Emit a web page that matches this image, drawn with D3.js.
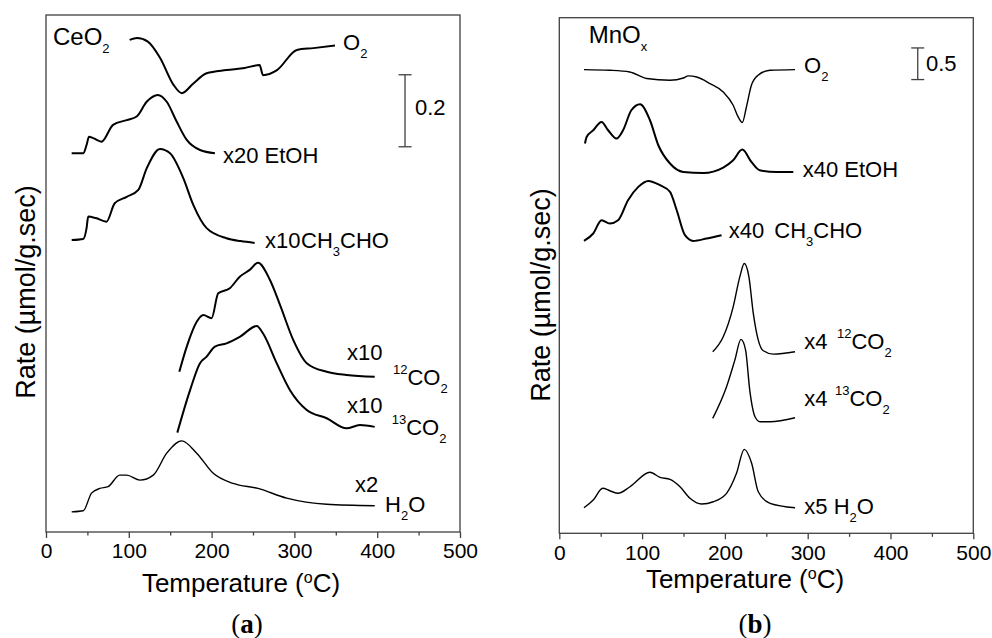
<!DOCTYPE html>
<meta charset="utf-8">
<style>
body { margin: 0; background: #fff; }
svg { display: block; font-family: "Liberation Sans", Arial, sans-serif; }

.frame {
  fill: none;
  stroke: #404040;
  stroke-width: 1.3px;
}

.curve {
  fill: none;
  stroke: #000;
  stroke-linejoin: round;
}

.axis path { display: none; }
.axis line { stroke: #404040; stroke-width: 1.3px; }
.axis text { font-size: 21px; fill: #000; font-family: "Liberation Sans", Arial, sans-serif; }

.scalebar { stroke: #404040; stroke-width: 1.3px; }
.panel-tag { font-family: "Liberation Serif", "Times New Roman", serif; font-size: 27px; }
</style>
<svg width="992" height="638"></svg>
<script src="https://cdn.jsdelivr.net/npm/d3@7"></script>
<script>

// temperature axis
var tempTicks = [0, 100, 200, 300, 400, 500];
var tempMinor = [50, 150, 250, 350, 450];

// (a) CeO2 : [temperature °C, stacked rate µmol/g.sec]
var ceO2_O2 = [[101, 1.367], [110, 1.372], [123, 1.362], [138, 1.316], [154, 1.242], [164, 1.219],
  [178, 1.246], [194, 1.274], [218, 1.283], [240, 1.289], [258, 1.297], [262, 1.269], [279, 1.283],
  [303, 1.339], [323, 1.344], [349, 1.351]];
var ceO2_EtOH = [[31, 1.052], [45, 1.052], [49, 1.075], [52, 1.098], [57, 1.094], [67, 1.084], [81, 1.131],
  [97.5, 1.144], [109.5, 1.154], [121.6, 1.195], [135, 1.214], [145.8, 1.195], [157.8, 1.140],
  [170, 1.089], [186, 1.061], [204, 1.052]];
var ceO2_CH3CHO = [[31, 0.811], [45, 0.814], [49, 0.844], [51, 0.876], [60, 0.872], [73, 0.862], [83, 0.913],
  [97.5, 0.931], [111.5, 0.950], [121.6, 1.010], [137.7, 1.064], [149.8, 1.052], [165.8, 0.983],
  [178, 0.908], [194, 0.844], [218, 0.816], [235, 0.808], [252, 0.803]];
var ceO2_12CO2 = [[161, 0.445], [170, 0.515], [182, 0.584], [190, 0.603], [200, 0.594], [208, 0.663],
  [222, 0.677], [234, 0.709], [246, 0.728], [256, 0.748], [270.5, 0.700], [282.6, 0.631],
  [298.7, 0.533], [314.9, 0.469], [339, 0.445], [363, 0.436], [397, 0.431]];
var ceO2_13CO2 = [[158.6, 0.276], [174, 0.394], [186, 0.469], [194, 0.487], [204, 0.515], [218, 0.524],
  [234, 0.542], [254.5, 0.572], [262, 0.552], [278.6, 0.469], [294.7, 0.394], [314.9, 0.339],
  [339, 0.316], [363, 0.288], [379, 0.297], [397, 0.292]];
var ceO2_H2O = [[31, 0.056], [45, 0.059], [55, 0.108], [65, 0.121], [75, 0.126], [89, 0.158], [97.5, 0.158],
  [113.5, 0.144], [129.6, 0.158], [145.8, 0.219], [163.9, 0.253], [182, 0.219], [202, 0.163],
  [226, 0.135], [256, 0.121], [290.7, 0.094], [339, 0.077], [397, 0.073]];

// (b) MnOx
var mnOx_O2 = [[29.8, 7.330], [61, 7.319], [85, 7.292], [105.5, 7.188], [133.7, 7.161], [149.8, 7.197],
  [155.8, 7.230], [166, 7.213], [182, 7.109], [198, 6.976], [210, 6.766], [216, 6.581], [221, 6.493],
  [226, 6.739], [232, 7.082], [240, 7.240], [254.5, 7.319], [284.7, 7.330]];
var mnOx_EtOH = [[31, 6.161], [33, 6.265], [41, 6.371], [51, 6.502], [59, 6.371], [69, 6.240], [77, 6.371],
  [87, 6.687], [97.5, 6.782], [109.5, 6.529], [119.6, 6.134], [133.7, 5.845], [149.8, 5.712],
  [174, 5.697], [198, 5.782], [210, 5.897], [221, 6.066], [232, 5.870], [242, 5.739],
  [262.5, 5.712], [282.6, 5.712]];
var mnOx_CH3CHO = [[29.8, 4.622], [41, 4.739], [51, 4.949], [61, 4.897], [71, 4.949], [83, 5.265],
  [95.4, 5.476], [107.5, 5.570], [121.6, 5.502], [133.7, 5.397], [141.8, 5.107], [151.8, 4.712],
  [161.8, 4.622], [178, 4.660], [196, 4.712]];
var mnOx_12CO2 = [[185.3, 2.869], [198, 3.106], [210, 3.580], [218, 4.054], [223.4, 4.265], [229, 4.054],
  [234.3, 3.476], [240.3, 3.054], [246.4, 2.885], [258.5, 2.832], [284.7, 2.869]];
var mnOx_13CO2 = [[185.3, 1.817], [202, 2.316], [212, 2.738], [219.4, 3.065], [225, 2.896], [230, 2.264],
  [236.4, 1.842], [242.4, 1.763], [254.5, 1.763], [284.7, 1.826]];
var mnOx_H2O = [[29.8, 0.404], [41, 0.526], [52.4, 0.711], [61, 0.673], [71, 0.632], [85.4, 0.736],
  [109.5, 0.964], [121.6, 0.885], [133.7, 0.853], [145.8, 0.736], [157.8, 0.553], [172, 0.463],
  [186, 0.499], [202, 0.632], [214, 0.948], [223.4, 1.327], [232.3, 1.106], [240.3, 0.657],
  [254.5, 0.474], [284.7, 0.404]];

var svg = d3.select("svg");

var panels = [
  {
    tag: "a", left: 46, top: 15, right: 460, bottom: 532, yMax: 1.436, tickPad: 5,
    series: [
      {data: ceO2_O2, noisy: true}, {data: ceO2_EtOH, noisy: true}, {data: ceO2_CH3CHO, noisy: true},
      {data: ceO2_12CO2, noisy: true}, {data: ceO2_13CO2, noisy: true}, {data: ceO2_H2O, noisy: false}
    ],
    bar: {t: 433.6, base: 1.07, len: 0.2, text: "0.2", tx: 415, ty: 115},
    xTitle: [241, 592], yTitle: [35, 292], tagPos: [247, 633],
    labels: [
      [53, 45, [["CeO"], ["2", "sub"]], 24],
      [343, 50, [["O"], ["2", "sub"]]],
      [223, 163, [["x20 EtOH"]]],
      [265, 248, [["x10"], ["CH", null, 301], ["3", "sub"], ["CHO"]]],
      [347, 360, [["x10"]]],
      [393, 385, [["12", "sup"], ["CO"], ["2", "sub"]]],
      [347, 413, [["x10"]]],
      [391.7, 435, [["13", "sup"], ["CO"], ["2", "sub"]]],
      [355, 491.7, [["x2"]]],
      [385, 511.7, [["H"], ["2", "sub"], ["O"]]]
    ]
  },
  {
    tag: "b", left: 559.3, top: 17.7, right: 973.3, bottom: 533.3, yMax: 8.15, tickPad: 6,
    series: [
      {data: mnOx_O2, noisy: false}, {data: mnOx_EtOH, noisy: true}, {data: mnOx_CH3CHO, noisy: true},
      {data: mnOx_12CO2, noisy: false}, {data: mnOx_13CO2, noisy: false}, {data: mnOx_H2O, noisy: false}
    ],
    bar: {t: 432.9, base: 7.172, len: 0.5, text: "0.5", tx: 926, ty: 70.7},
    xTitle: [745, 588], yTitle: [550, 295], tagPos: [755, 633],
    labels: [
      [588.7, 43.3, [["MnO"], ["x", "sub"]], 24],
      [804, 72.7, [["O"], ["2", "sub"]]],
      [802.7, 176.7, [["x40 EtOH"]]],
      [728.7, 238.3, [["x40"], ["CH", null, 774.3], ["3", "sub"], ["CHO"]]],
      [804.3, 349, [["x4"], ["12", "sup", 837], ["CO"], ["2", "sub"]]],
      [804.3, 406, [["x4"], ["13", "sup", 835], ["CO"], ["2", "sub"]]],
      [804.3, 514, [["x5 H"], ["2", "sub"], ["O"]]]
    ]
  }
];

// text with sub/superscripts; parts = [text, kind, x]
function rich(g, x, y, parts, size, small, subOff, supOff) {
  var t = g.append("text").attr("x", x).attr("y", y).style("font-size", size + "px");
  var cur = 0;
  parts.forEach(function(p) {
    var off = p[1] === "sub" ? subOff : p[1] === "sup" ? supOff : 0;
    var s = t.append("tspan").attr("dy", off - cur).text(p[0]);
    cur = off;
    if (p[1]) s.style("font-size", small + "px");
    if (p[2] != null) s.attr("x", p[2]);
  });
  return t;
}

panels.forEach(function(p) {
  var x = d3.scaleLinear().domain([0, 500]).range([p.left, p.right]);
  var y = d3.scaleLinear().domain([0, p.yMax]).range([p.bottom, p.top]);
  var g = svg.append("g");

  var line = d3.line()
      .x(function(d) { return x(d[0]); })
      .y(function(d) { return y(d[1]); })
      .curve(d3.curveMonotoneX);

  g.append("g")
      .attr("class", "axis")
      .attr("transform", "translate(0," + p.bottom + ")")
      .call(d3.axisBottom(x).tickValues(tempMinor).tickSize(3.5).tickFormat(""));

  g.append("g")
      .attr("class", "axis")
      .attr("transform", "translate(0," + p.bottom + ")")
      .call(d3.axisBottom(x).tickValues(tempTicks).tickSize(6).tickPadding(p.tickPad).tickFormat(d3.format("d")));

  g.append("rect")
      .attr("class", "frame")
      .attr("x", p.left).attr("y", p.top)
      .attr("width", p.right - p.left).attr("height", p.bottom - p.top);

  g.selectAll("path.curve")
    .data(p.series)
    .enter().append("path")
      .attr("class", "curve")
      .attr("stroke-width", function(d) { return d.noisy ? 2 : 1.4; })
      .attr("d", function(d) { return line(d.data); });

  // scale bar
  var bx = x(p.bar.t), b0 = y(p.bar.base), b1 = y(p.bar.base + p.bar.len);
  g.append("line").attr("class", "scalebar").attr("x1", bx).attr("x2", bx).attr("y1", b0).attr("y2", b1);
  g.append("line").attr("class", "scalebar").attr("x1", bx - 6.5).attr("x2", bx + 6.5).attr("y1", b0).attr("y2", b0);
  g.append("line").attr("class", "scalebar").attr("x1", bx - 6.5).attr("x2", bx + 6.5).attr("y1", b1).attr("y2", b1);
  g.append("text").attr("x", p.bar.tx).attr("y", p.bar.ty).style("font-size", "22px").text(p.bar.text);

  p.labels.forEach(function(l) {
    rich(g, l[0], l[1], l[2], l[3] || 22, 13, 8, -11);
  });

  rich(g, p.xTitle[0], p.xTitle[1], [["Temperature ("], ["o", "sup"], ["C)"]], 26, 16, 0, -9)
      .attr("text-anchor", "middle");

  g.append("text")
      .attr("transform", "translate(" + p.yTitle[0] + "," + p.yTitle[1] + ") rotate(-90)")
      .attr("text-anchor", "middle")
      .style("font-size", "27px")
      .text("Rate (\u00b5mol/g.sec)");

  var tag = g.append("text")
      .attr("class", "panel-tag")
      .attr("x", p.tagPos[0]).attr("y", p.tagPos[1])
      .attr("text-anchor", "middle");
  tag.append("tspan").text("(");
  tag.append("tspan").style("font-weight", "bold").text(p.tag);
  tag.append("tspan").text(")");
});

</script>
